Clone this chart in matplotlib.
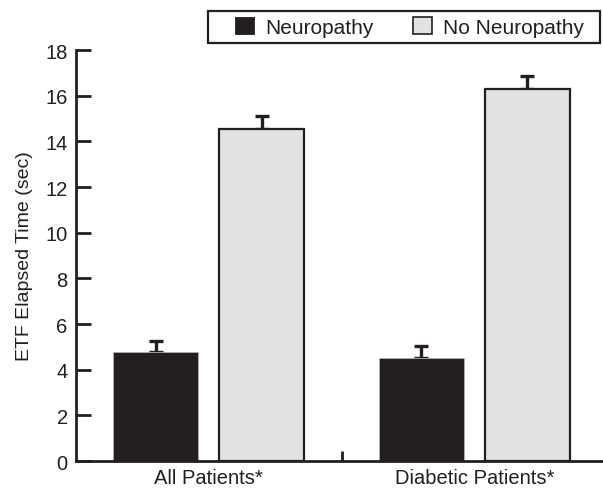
import numpy as np
import matplotlib
matplotlib.use("Agg")
import matplotlib.pyplot as plt
from matplotlib.patches import Rectangle

plt.rcParams['font.family'] = ['Liberation Sans', 'DejaVu Sans']

groups = ["All Patients*", "Diabetic Patients*"]
series = ["Neuropathy", "No Neuropathy"]
neuro = [4.78, 4.50]
neuro_err = [0.48, 0.55]
no_neuro = [14.55, 16.28]
no_neuro_err = [0.56, 0.57]

dark = '#231f20'
light = '#e1e2e4'
fs = 14.5

fig = plt.figure(figsize=(6.03, 4.89), dpi=100)
ax = fig.add_axes([0.126, 0.0552, 0.872, 0.8405])

x = np.arange(len(groups))
w = 0.32
off = 0.2

ax.bar(x - off, neuro, w, color=dark, edgecolor='#b0b0b0', linewidth=0.6,
       label=series[0], zorder=2)
ax.bar(x + off, no_neuro, w, color=light, edgecolor=dark, linewidth=1.6,
       label=series[1], zorder=2)
ax.errorbar(x - off, neuro, yerr=[np.zeros(2), neuro_err], fmt='none',
            ecolor=dark, elinewidth=2.4, capsize=5, capthick=2.4, zorder=1)
ax.errorbar(x + off, no_neuro, yerr=[np.zeros(2), no_neuro_err], fmt='none',
            ecolor=dark, elinewidth=2.4, capsize=5, capthick=2.4, zorder=1)

ax.set_xlim(-0.5, 1.48)
ax.set_ylim(0, 18)
ax.set_yticks(range(0, 19, 2))
ax.set_xticks(x)
ax.set_xticklabels(groups)
ax.set_xticks([0.5], minor=True)
ax.tick_params(axis='x', which='major', length=0, pad=5, labelsize=fs, colors=dark)
ax.tick_params(axis='x', which='minor', direction='in', length=7.5, width=2, color=dark)
ax.tick_params(axis='y', direction='in', length=10.5, width=2, pad=6,
               labelsize=fs, colors=dark)

for s in ['top', 'right']:
    ax.spines[s].set_visible(False)
for s in ['left', 'bottom']:
    ax.spines[s].set_linewidth(2)
    ax.spines[s].set_color(dark)

ax.set_ylabel("ETF Elapsed Time (sec)", fontsize=14, color=dark, labelpad=9)

# legend contents without frame, box drawn separately to get the wide padding
leg = ax.legend(loc='center left', bbox_to_anchor=(235 / 603, 1 - 28 / 489),
                bbox_transform=fig.transFigure, ncol=2, fontsize=15,
                frameon=False, handlelength=0.9, handleheight=0.9,
                columnspacing=1.9, handletextpad=0.55, borderpad=0,
                borderaxespad=0, labelcolor=dark)
leg.legend_handles[0].set_edgecolor(dark)
leg.legend_handles[1].set_linewidth(1.2)
fig.add_artist(Rectangle((208 / 603, 1 - 44 / 489), 392 / 603, 32 / 489,
                         transform=fig.transFigure, fill=False,
                         edgecolor=dark, linewidth=1.6))

fig.savefig("out.png", dpi=100)
